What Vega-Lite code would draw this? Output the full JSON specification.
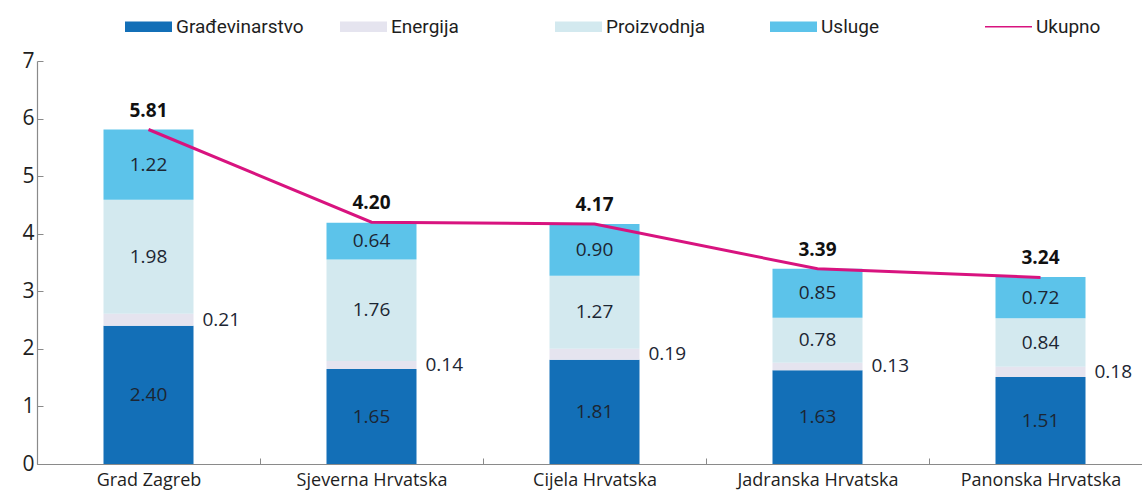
{
  "$schema": "https://vega.github.io/schema/vega-lite/v6.json",
  "width": 1105,
  "height": 403,
  "autosize": {"type": "none"},
  "padding": {"left": 37, "top": 61, "right": 0, "bottom": 38},
  "background": "white",
  "config": {
    "view": {"stroke": null},
    "font": "Open Sans",
    "axis": {"labelFont": "Open Sans", "labelColor": "#1e1e1e", "domainColor": "#8a8a8a", "tickColor": "#8a8a8a", "grid": false, "title": null}
  },
  "datasets": {
    "parts": [
      {"regija": "Grad Zagreb", "sektor": "Građevinarstvo", "vrijednost": 2.40},
      {"regija": "Grad Zagreb", "sektor": "Energija", "vrijednost": 0.21},
      {"regija": "Grad Zagreb", "sektor": "Proizvodnja", "vrijednost": 1.98},
      {"regija": "Grad Zagreb", "sektor": "Usluge", "vrijednost": 1.22},
      {"regija": "Sjeverna Hrvatska", "sektor": "Građevinarstvo", "vrijednost": 1.65},
      {"regija": "Sjeverna Hrvatska", "sektor": "Energija", "vrijednost": 0.14},
      {"regija": "Sjeverna Hrvatska", "sektor": "Proizvodnja", "vrijednost": 1.76},
      {"regija": "Sjeverna Hrvatska", "sektor": "Usluge", "vrijednost": 0.64},
      {"regija": "Cijela Hrvatska", "sektor": "Građevinarstvo", "vrijednost": 1.81},
      {"regija": "Cijela Hrvatska", "sektor": "Energija", "vrijednost": 0.19},
      {"regija": "Cijela Hrvatska", "sektor": "Proizvodnja", "vrijednost": 1.27},
      {"regija": "Cijela Hrvatska", "sektor": "Usluge", "vrijednost": 0.90},
      {"regija": "Jadranska Hrvatska", "sektor": "Građevinarstvo", "vrijednost": 1.63},
      {"regija": "Jadranska Hrvatska", "sektor": "Energija", "vrijednost": 0.13},
      {"regija": "Jadranska Hrvatska", "sektor": "Proizvodnja", "vrijednost": 0.78},
      {"regija": "Jadranska Hrvatska", "sektor": "Usluge", "vrijednost": 0.85},
      {"regija": "Panonska Hrvatska", "sektor": "Građevinarstvo", "vrijednost": 1.51},
      {"regija": "Panonska Hrvatska", "sektor": "Energija", "vrijednost": 0.18},
      {"regija": "Panonska Hrvatska", "sektor": "Proizvodnja", "vrijednost": 0.84},
      {"regija": "Panonska Hrvatska", "sektor": "Usluge", "vrijednost": 0.72}
    ],
    "totals": [
      {"regija": "Grad Zagreb", "ukupno": 5.81},
      {"regija": "Sjeverna Hrvatska", "ukupno": 4.20},
      {"regija": "Cijela Hrvatska", "ukupno": 4.17},
      {"regija": "Jadranska Hrvatska", "ukupno": 3.39},
      {"regija": "Panonska Hrvatska", "ukupno": 3.24}
    ]
  },
  "encoding": {
    "x": {
      "field": "regija", "type": "nominal", "sort": null,
      "scale": {"range": [0, 1115], "paddingInner": 0, "paddingOuter": 0},
      "axis": {"labelAngle": 0, "labelFontSize": 18, "labelPadding": 13, "tickBand": "extent", "tickSize": -6, "domainWidth": 1.2, "ticks": true}
    }
  },
  "layer": [
    {
      "data": {"name": "parts"},
      "transform": [
        {"calculate": "indexof(['Građevinarstvo','Energija','Proizvodnja','Usluge'], datum.sektor)", "as": "ord"}
      ],
      "mark": {"type": "bar", "width": 90},
      "encoding": {
        "y": {
          "field": "vrijednost", "type": "quantitative", "stack": "zero",
          "scale": {"domain": [0, 7], "nice": false},
          "axis": {"values": [0, 1, 2, 3, 4, 5, 6, 7], "format": "d", "labelFontSize": 21, "labelPadding": 9, "tickSize": -6, "domainWidth": 1.2}
        },
        "order": {"field": "ord", "type": "quantitative", "sort": "ascending"},
        "color": {
          "field": "sektor", "type": "nominal",
          "scale": {
            "domain": ["Građevinarstvo", "Energija", "Proizvodnja", "Usluge", "Ukupno"],
            "range": ["#136fb7", "#e5e4ef", "#d3e9ef", "#5cc3ea", "#d8137f"]
          },
          "legend": {
            "title": null,
            "orient": "none",
            "direction": "horizontal",
            "legendX": 88,
            "legendY": -58,
            "gridAlign": "all",
            "columnPadding": 36,
            "labelFont": "Roboto",
            "labelFontSize": 19,
            "labelColor": "#1e1e1e",
            "labelOffset": 4,
            "symbolType": "M-1,-0.22H1V0.22H-1Z",
            "symbolSize": 2209,
            "symbolStrokeWidth": 0,
            "encode": {
              "symbols": {
                "update": {
                  "shape": {"signal": "datum.value === 'Ukupno' ? 'M-1,-0.035H1V0.035H-1Z' : 'M-1,-0.22H1V0.22H-1Z'"},
                  "fill": {"scale": "color", "field": "value"},
                  "strokeWidth": {"value": 0},
                  "opacity": {"value": 1}
                }
              }
            }
          }
        }
      }
    },
    {
      "data": {"name": "totals"},
      "mark": {"type": "line", "strokeWidth": 3},
      "encoding": {
        "y": {"field": "ukupno", "type": "quantitative"},
        "color": {"datum": "Ukupno"}
      }
    },
    {
      "data": {"name": "parts"},
      "transform": [
        {"calculate": "indexof(['Građevinarstvo','Energija','Proizvodnja','Usluge'], datum.sektor)", "as": "ord"},
        {"stack": "vrijednost", "groupby": ["regija"], "sort": [{"field": "ord"}], "as": ["y0", "y1"]},
        {"calculate": "(datum.y0 + datum.y1) / 2", "as": "mid"},
        {"filter": "datum.sektor !== 'Energija'"}
      ],
      "mark": {"type": "text", "fontSize": 19, "color": "#1c2633", "font": "Open Sans"},
      "encoding": {
        "y": {"field": "mid", "type": "quantitative"},
        "text": {"field": "vrijednost", "type": "quantitative", "format": ".2f"}
      }
    },
    {
      "data": {"name": "parts"},
      "transform": [
        {"calculate": "indexof(['Građevinarstvo','Energija','Proizvodnja','Usluge'], datum.sektor)", "as": "ord"},
        {"stack": "vrijednost", "groupby": ["regija"], "sort": [{"field": "ord"}], "as": ["y0", "y1"]},
        {"calculate": "(datum.y0 + datum.y1) / 2", "as": "mid"},
        {"filter": "datum.sektor === 'Energija'"}
      ],
      "mark": {"type": "text", "fontSize": 19, "color": "#1c2633", "font": "Open Sans", "align": "left", "dx": 54},
      "encoding": {
        "y": {"field": "mid", "type": "quantitative"},
        "text": {"field": "vrijednost", "type": "quantitative", "format": ".2f"}
      }
    },
    {
      "data": {"name": "totals"},
      "mark": {"type": "text", "fontSize": 19, "fontWeight": "bold", "color": "#111111", "font": "Open Sans", "baseline": "bottom", "dy": -9},
      "encoding": {
        "y": {"field": "ukupno", "type": "quantitative"},
        "text": {"field": "ukupno", "type": "quantitative", "format": ".2f"}
      }
    }
  ]
}
